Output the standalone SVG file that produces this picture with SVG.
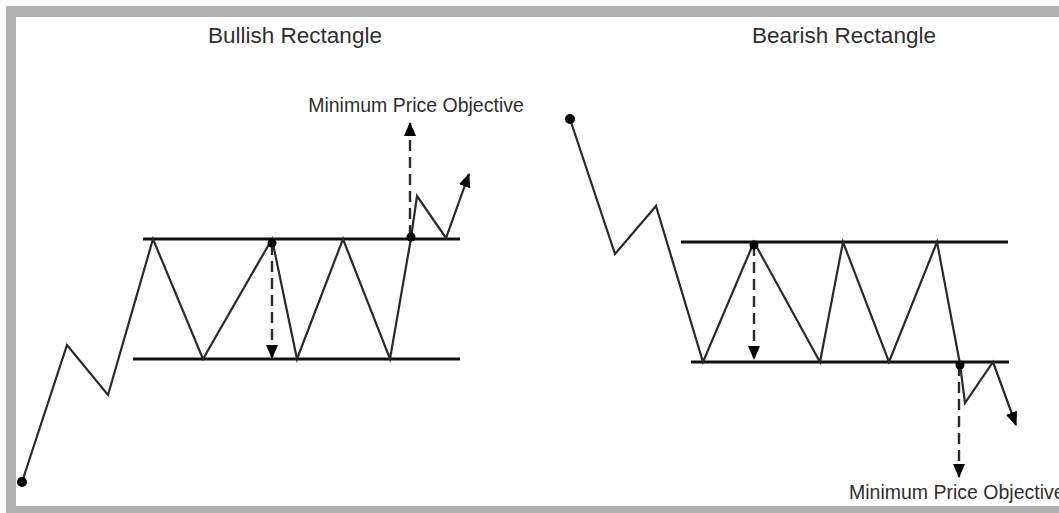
<svg xmlns="http://www.w3.org/2000/svg" width="1059" height="513" viewBox="0 0 1059 513">
  <style>
    .title { font-family: "Liberation Sans", Arial, sans-serif; font-size: 22.5px; fill: #2e2e2e; }
    .label { font-family: "Liberation Sans", Arial, sans-serif; font-size: 19.5px; fill: #2e2e2e; }
    .price { fill: none; stroke: #2a2a2a; stroke-width: 2.2; stroke-linejoin: miter; }
    .level { stroke: #111; stroke-width: 3.2; }
    .measure { fill: none; stroke: #2a2a2a; stroke-width: 2.4; stroke-dasharray: 11 6; }
    .dot { fill: #000; }
  </style>
  <defs>
    <marker id="arrow" viewBox="0 0 14 12" refX="13" refY="6" markerWidth="14" markerHeight="12" markerUnits="userSpaceOnUse" orient="auto">
      <path d="M0,0 L14,6 L0,12 Z" fill="#000"/>
    </marker>
  </defs>

  <rect x="0" y="0" width="1059" height="513" fill="#ffffff"/>
  <g id="frame">
    <rect x="6" y="6" width="1060" height="510" fill="#b0b0b0"/>
    <rect x="16" y="17" width="1050" height="489" fill="#ffffff"/>
  </g>

  <g id="bullish-title"><text class="title" x="295" y="43" text-anchor="middle">Bullish Rectangle</text></g>
  <g id="bearish-title"><text class="title" x="844" y="43" text-anchor="middle">Bearish Rectangle</text></g>

  <g id="bullish-resistance"><line class="level" x1="143" y1="239" x2="460" y2="239"/></g>
  <g id="bullish-support"><line class="level" x1="133" y1="359" x2="460" y2="359"/></g>
  <g id="bearish-resistance"><line class="level" x1="681" y1="242" x2="1008" y2="242"/></g>
  <g id="bearish-support"><line class="level" x1="691" y1="362" x2="1009" y2="362"/></g>

  <g id="bullish-objective-label"><text class="label" x="416" y="112" text-anchor="middle">Minimum Price Objective</text></g>
  <g id="bearish-objective-label"><text class="label" x="849" y="499">Minimum Price Objective</text></g>

  <g id="connectors">
    <polyline class="price" points="22,482 67,345 108,395 153,239 203,359 272,239 297,359 343,239 390,359 411,238 417,196 446,238 469,174" marker-end="url(#arrow)"/>
    <line class="measure" x1="272" y1="244" x2="272" y2="358" marker-end="url(#arrow)"/>
    <line class="measure" x1="410" y1="236" x2="410" y2="123" marker-end="url(#arrow)"/>

    <polyline class="price" points="570,119 615,254 656,206 703,362 754,242 820,362 843,242 889,362 937,242 960,364 965,403 993,362 1016,425" marker-end="url(#arrow)"/>
    <line class="measure" x1="754" y1="245" x2="754" y2="359" marker-end="url(#arrow)"/>
    <line class="measure" x1="959" y1="365" x2="959" y2="477" marker-end="url(#arrow)"/>
  </g>

  <g id="markers">
    <circle class="dot" cx="22" cy="482" r="5"/>
    <circle class="dot" cx="272" cy="243" r="4.5"/>
    <circle class="dot" cx="411" cy="237" r="4.5"/>
    <circle class="dot" cx="570" cy="119" r="5"/>
    <circle class="dot" cx="754" cy="245" r="4.5"/>
    <circle class="dot" cx="960" cy="365" r="4.5"/>
  </g>
</svg>
